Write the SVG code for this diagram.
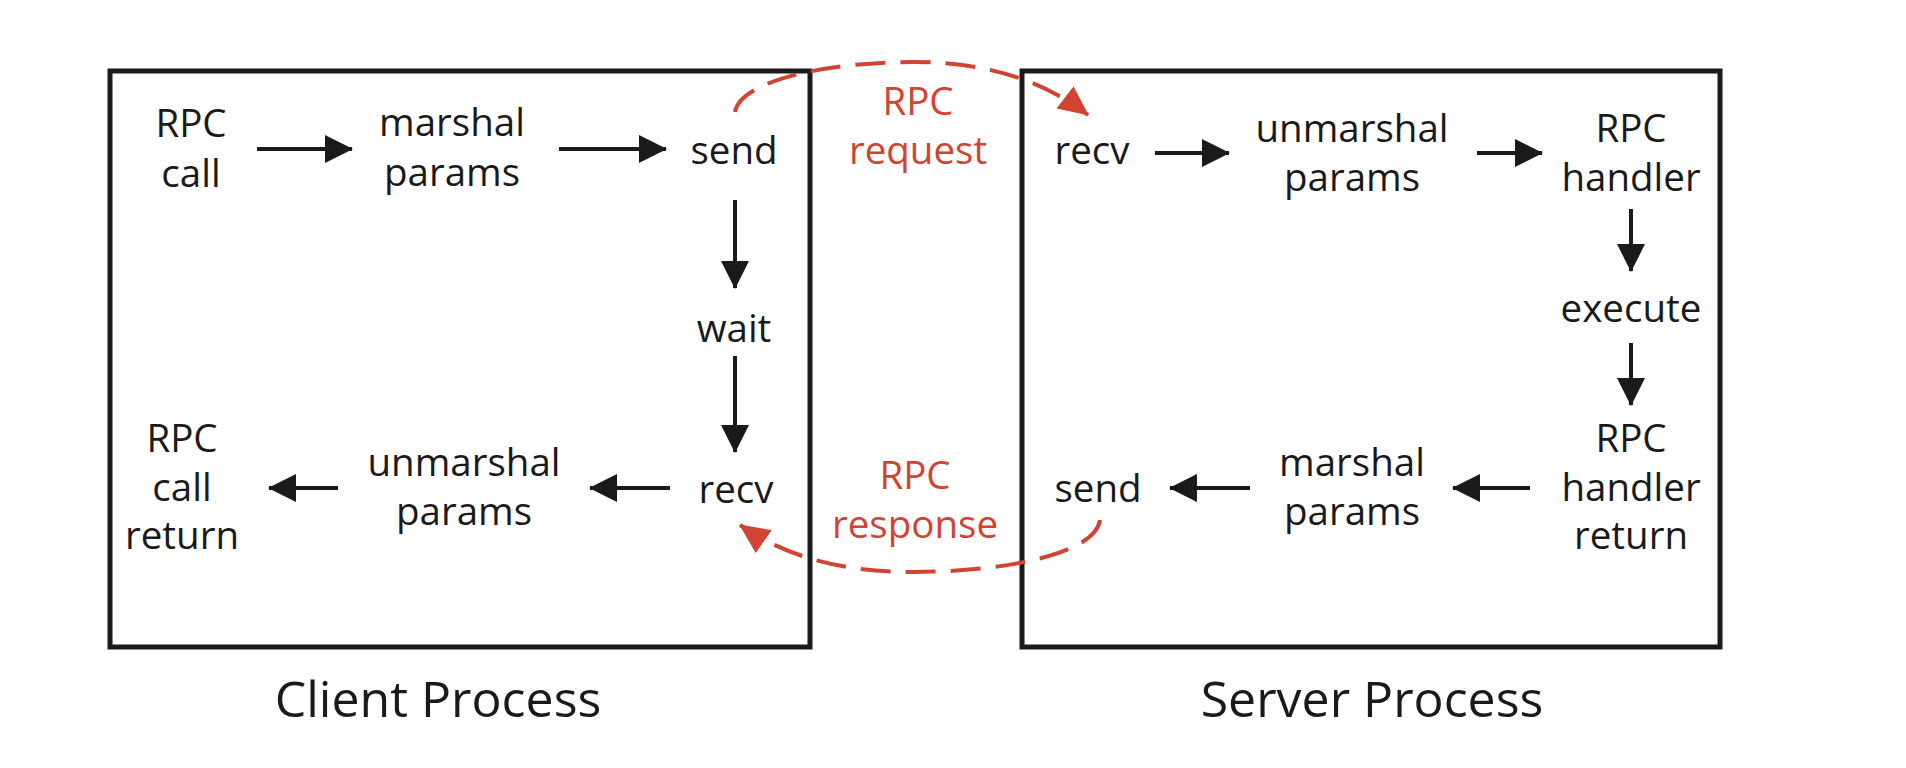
<svg xmlns="http://www.w3.org/2000/svg" width="1906" height="768" viewBox="0 0 1906 768">
<style>
.box{fill:none;stroke:#1a1a1a;stroke-width:5}
.t{font-family:"Open Sans","DejaVu Sans",sans-serif;font-size:38.5px;fill:#1a1a1a;text-anchor:middle}
.r{fill:#d04431}
.cap{font-family:"Open Sans","DejaVu Sans",sans-serif;font-size:50px;fill:#1a1a1a;text-anchor:middle}
.a{stroke:#1a1a1a;stroke-width:4;fill:none;marker-end:url(#ah)}
.d{stroke:#d04431;stroke-width:4;fill:none;stroke-dasharray:30 15;marker-end:url(#rh)}
</style>
<defs>
<marker id="ah" markerUnits="userSpaceOnUse" markerWidth="28" markerHeight="28" viewBox="0 0 28 28" refX="27" refY="14" orient="auto"><path d="M0,0 L28,14 L0,28 z" fill="#1a1a1a"/></marker>
<marker id="rh" markerUnits="userSpaceOnUse" markerWidth="30" markerHeight="28" viewBox="0 0 30 28" refX="29" refY="14" orient="auto"><path d="M0,0 L30,14 L0,28 z" fill="#d04431"/></marker>
</defs>
<rect width="1906" height="768" fill="#fff"/>
<g id="client-process"><rect class="box" x="110" y="71" width="700" height="576"/><text class="cap" x="438" y="717">Client Process</text></g>
<g id="server-process"><rect class="box" x="1022" y="71" width="698" height="576"/><text class="cap" x="1372" y="717">Server Process</text></g>
<g id="c-rpc-call"><text class="t" x="191" y="137">RPC</text><text class="t" x="191" y="187">call</text></g>
<g id="c-marshal"><text class="t" x="452" y="136">marshal</text><text class="t" x="452" y="186">params</text></g>
<g id="c-send"><text class="t" x="734" y="164">send</text></g>
<g id="c-wait"><text class="t" x="734" y="342">wait</text></g>
<g id="c-recv"><text class="t" x="736" y="503">recv</text></g>
<g id="c-unmarshal"><text class="t" x="464" y="476">unmarshal</text><text class="t" x="464" y="525">params</text></g>
<g id="c-return"><text class="t" x="182" y="452">RPC</text><text class="t" x="182" y="501">call</text><text class="t" x="182" y="549">return</text></g>
<g id="s-recv"><text class="t" x="1092" y="164">recv</text></g>
<g id="s-unmarshal"><text class="t" x="1352" y="142">unmarshal</text><text class="t" x="1352" y="191">params</text></g>
<g id="s-handler"><text class="t" x="1631" y="142">RPC</text><text class="t" x="1631" y="191">handler</text></g>
<g id="s-execute"><text class="t" x="1631" y="322">execute</text></g>
<g id="s-return"><text class="t" x="1631" y="452">RPC</text><text class="t" x="1631" y="501">handler</text><text class="t" x="1631" y="549">return</text></g>
<g id="s-marshal"><text class="t" x="1352" y="476">marshal</text><text class="t" x="1352" y="525">params</text></g>
<g id="s-send"><text class="t" x="1098" y="502">send</text></g>
<g id="rpc-request"><text class="t r" x="918" y="115">RPC</text><text class="t r" x="918" y="164">request</text></g>
<g id="rpc-response"><text class="t r" x="915" y="489">RPC</text><text class="t r" x="915" y="538">response</text></g>
<g id="connectors">
<line class="a" x1="257" y1="149" x2="352" y2="149"/>
<line class="a" x1="559" y1="149" x2="666" y2="149"/>
<line class="a" x1="735" y1="200" x2="735" y2="288"/>
<line class="a" x1="735" y1="356" x2="735" y2="452"/>
<line class="a" x1="670" y1="488" x2="590" y2="488"/>
<line class="a" x1="338" y1="488" x2="269" y2="488"/>
<line class="a" x1="1155" y1="153" x2="1229" y2="153"/>
<line class="a" x1="1477" y1="153" x2="1542" y2="153"/>
<line class="a" x1="1631" y1="209" x2="1631" y2="271"/>
<line class="a" x1="1631" y1="343" x2="1631" y2="405"/>
<line class="a" x1="1530" y1="488" x2="1453" y2="488"/>
<line class="a" x1="1250" y1="488" x2="1170" y2="488"/>
<path class="d" d="M735,112 C740,80 830,62 913,62 C990,62 1045,82 1088,115"/>
<path class="d" d="M1100,520 C1095,555 1000,572 913,572 C850,572 790,560 740,525"/>
</g>
</svg>
